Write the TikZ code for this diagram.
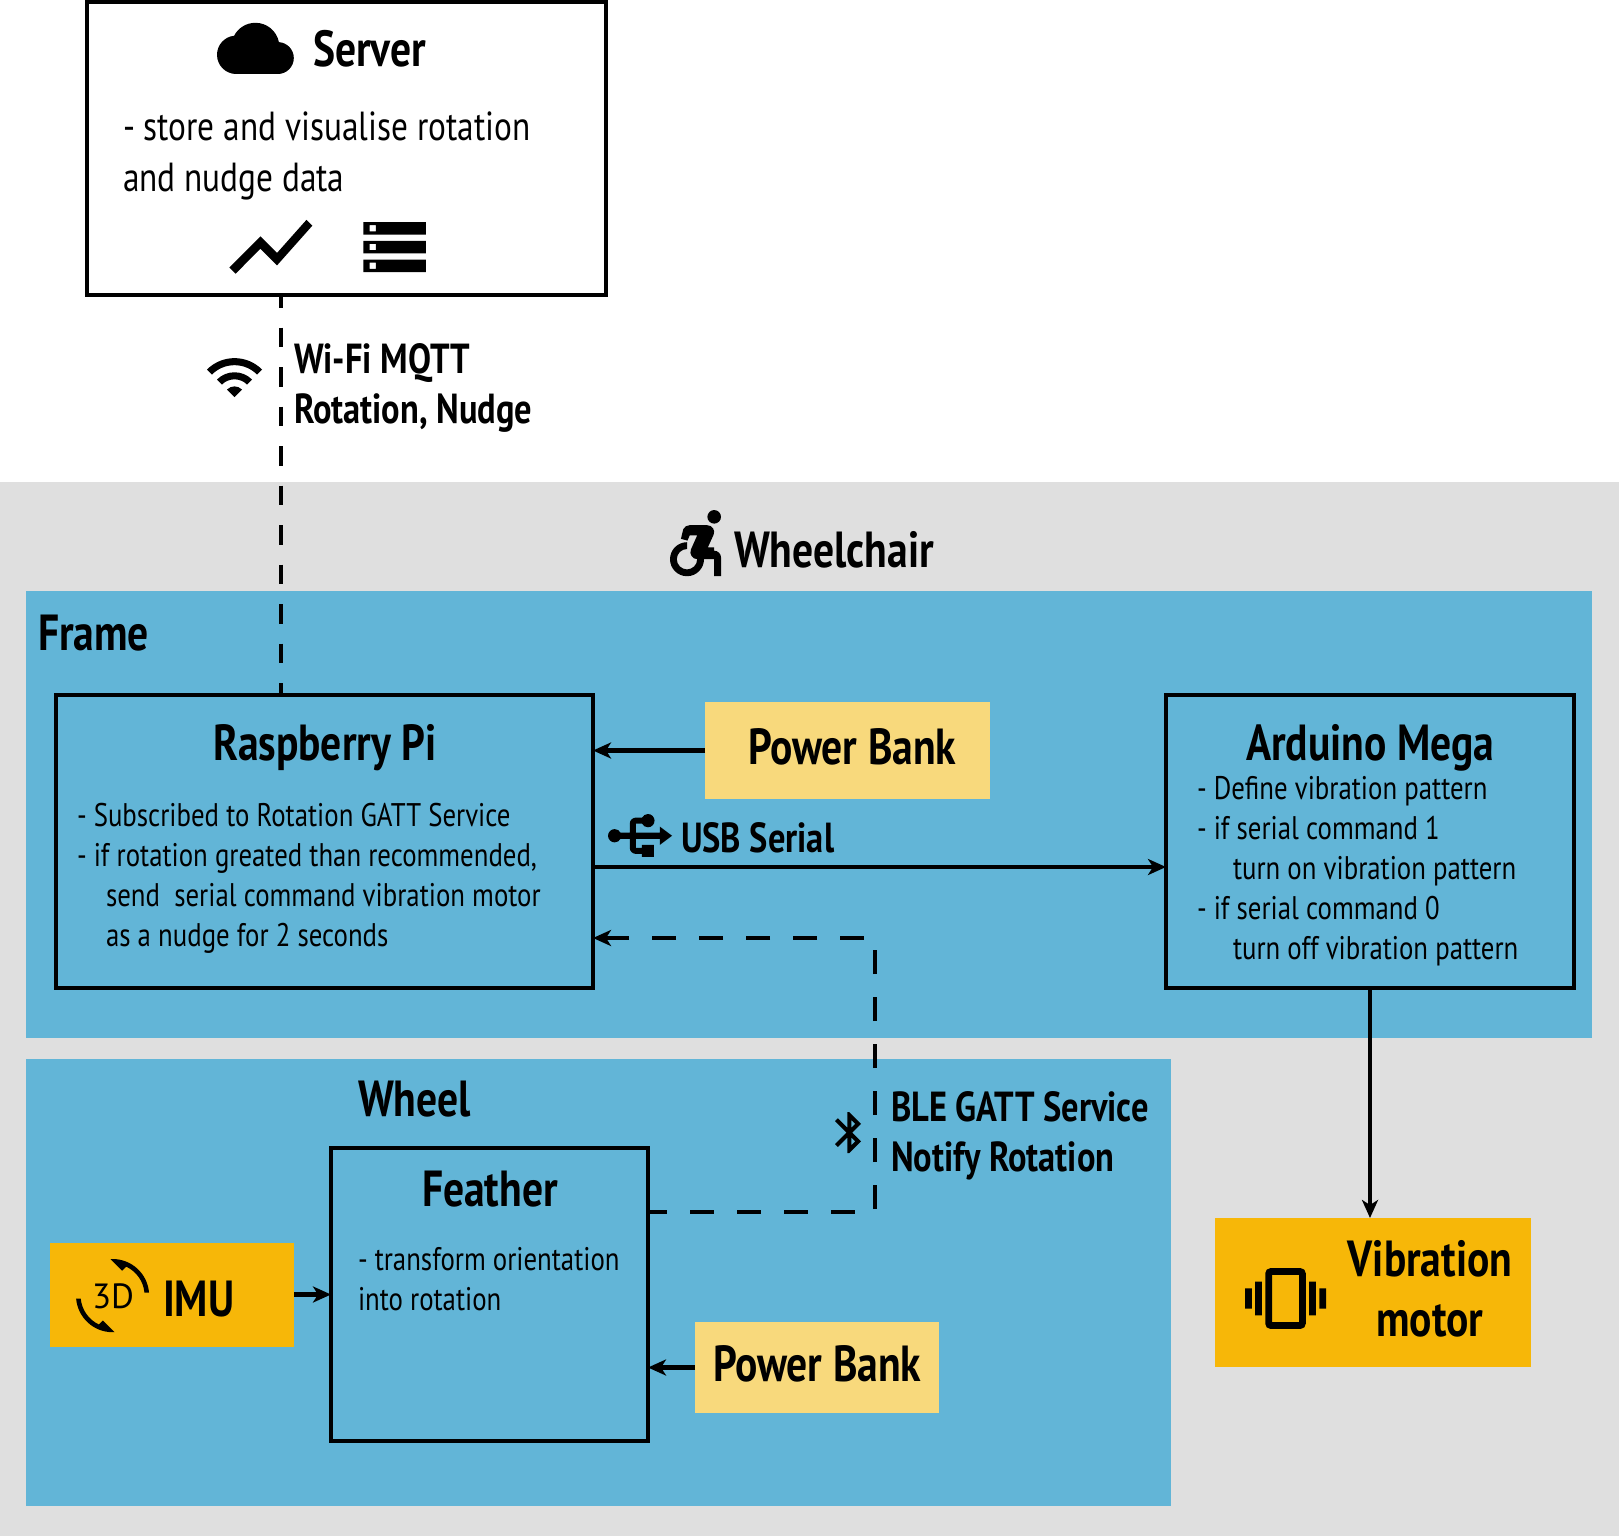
\documentclass[tikz,border=0pt]{standalone}
\usepackage{fontspec}
\setmainfont{PT Sans}[FakeStretch=0.82]
\newfontfamily\plainfont{PT Sans}
\usetikzlibrary{arrows.meta,svg.path}
\definecolor{bggray}{HTML}{DFDFDF}
\definecolor{zoneblue}{HTML}{62B5D7}
\definecolor{lightyellow}{HTML}{F8D97C}
\definecolor{strongyellow}{HTML}{F7B708}
\newcommand{\drawicon}[4]{\fill[even odd rule,shift={(#1,#2)},xscale=#3,yscale=-#3] svg {#4};}
\tikzset{
  zone/.style={fill=zoneblue,draw=none,inner sep=0pt,outer sep=0pt},
  blockbox/.style={draw=black,line width=4pt,inner sep=0pt,outer sep=0pt},
  softbox/.style={fill=lightyellow,inner sep=0pt,outer sep=0pt},
  hardbox/.style={fill=strongyellow,inner sep=0pt,outer sep=0pt},
  headline/.style={inner sep=0pt,outer sep=0pt,anchor=base west,font=\fontsize{50.7}{56}\selectfont\bfseries},
  linklabel/.style={inner sep=0pt,outer sep=0pt,anchor=north west,align=left,font=\fontsize{42}{50.5}\selectfont\bfseries},
  bodytext/.style={inner sep=0pt,outer sep=0pt,anchor=north west,align=left,font=\fontsize{32.7}{40}\selectfont},
  link/.style={draw=black,line width=4.3pt,-{Stealth[length=18pt,width=16pt,inset=5pt]}},
  wifilink/.style={draw=black,line width=4.3pt,dash pattern=on 19.5pt off 20pt,dash phase=7pt},
  blelink/.style={draw=black,line width=4.8pt,dash pattern=on 24pt off 23pt,dash phase=5pt,-{Stealth[length=18pt,width=16pt,inset=5pt]}},
}
\begin{document}
\begin{tikzpicture}[x=1pt,y=-1pt]
\useasboundingbox (0,0) rectangle (1619,1536);
\fill[bggray] (0,482) rectangle (1619,1536);
\node[zone,minimum width=1566pt,minimum height=447pt] (frame) at (809,814.5) {};
\node[zone,minimum width=1145pt,minimum height=447pt] (wheel) at (598.5,1282.5) {};
\node[blockbox,minimum width=519pt,minimum height=293pt] (server) at (346.5,148.5) {};
\node[blockbox,minimum width=537pt,minimum height=293pt] (pi) at (324.5,841.5) {};
\node[blockbox,minimum width=408pt,minimum height=293pt] (ard) at (1370,841.5) {};
\node[blockbox,minimum width=317pt,minimum height=293pt] (feather) at (489.5,1294.5) {};
\node[softbox,minimum width=285pt,minimum height=97pt] (pba) at (847.5,750.5) {};
\node[softbox,minimum width=244pt,minimum height=91pt] (pbb) at (817,1367.5) {};
\node[hardbox,minimum width=244pt,minimum height=104pt] (imu) at (172,1294.5) {};
\node[hardbox,minimum width=316pt,minimum height=149pt] (vib) at (1373,1292.5) {};
% connectors
\path[wifilink] (281,0 |- server.south) -- (281,0 |- pi.north);
\path[link] (pba.west) -- (pi.east |- pba.west);
\path[link] (pi.east |- 0,867) -- (ard.west |- 0,867);
\path[blelink] (feather.east |- 0,1212) -- (875,1212) -- (875,938) -- (pi.east |- 0,938);
\path[link] (imu.east) -- (feather.west);
\path[link] (pbb.west) -- (feather.east |- pbb.west);
\path[link] (ard.south) -- (ard.south |- vib.north);
% texts
\node[headline] (tserver) at (313,67) {Server};
\node[bodytext,font=\fontsize{40.6}{50.5}\selectfont] (bserver) at (123,112) {- store and visualise rotation\\and nudge data};
\node[linklabel] (lwifi) at (294,343.5) {Wi-Fi MQTT\\Rotation, Nudge};
\node[headline] (twc) at (734,567) {Wheelchair};
\node[headline] (tframe) at (38,650) {Frame};
\node[headline] (tpi) at (213,760) {Raspberry Pi};
\node[bodytext] (bpi) at (77,803) {- Subscribed to Rotation GATT Service\\- if rotation greated than recommended,\\\hspace*{29pt}send\ \ serial command vibration motor\\\hspace*{29pt}as a nudge for 2 seconds};
\node[headline] (tpba) at (748,764) {Power Bank};
\node[linklabel] (lusb) at (681,823) {USB Serial};
\node[headline] (tard) at (1246,760) {Arduino Mega};
\node[bodytext] (bard) at (1197,776) {- Define vibration pattern\\- if serial command 1\\\hspace*{36pt}turn on vibration pattern\\- if serial command 0\\\hspace*{36pt}turn off vibration pattern};
\node[headline] (twheel) at (358,1116) {Wheel};
\node[linklabel] (lble) at (891,1091) {BLE GATT Service\\Notify Rotation};
\node[headline] (tfeather) at (422,1206) {Feather};
\node[bodytext] (bfeather) at (358,1247) {- transform orientation\\into rotation};
\node[headline] (tpbb) at (713,1381) {Power Bank};
\node[headline] (timu) at (163,1316) {IMU};
\node[inner sep=0pt,outer sep=0pt,anchor=base west,font=\fontsize{35}{40}\selectfont\plainfont] (t3d) at (92,1308) {3D};
\node[inner sep=0pt,outer sep=0pt,anchor=north,align=center,font=\fontsize{50.7}{60}\selectfont\bfseries] (tvib) at (1430,1240) {Vibration\\motor};
% icons
\drawicon{217}{10}{3.2}{M 19.35 10.04 C 18.67 6.59 15.64 4 12 4 C 9.11 4 6.6 5.64 5.35 8.04 C 2.34 8.36 0 10.91 0 14 c 0 3.31 2.69 6 6 6 h 13 c 2.76 0 5 -2.24 5 -5 c 0 -2.64 -2.05 -4.78 -4.65 -4.96 z}
\drawicon{221}{197}{4.15}{M 3.5 18.49 l 6 -6.01 l 4 4 L 22 6.92 l -1.41 -1.41 l -7.09 7.97 l -4 -4 L 2 16.99 z}
\drawicon{357}{209.5}{3.13}{M 2 20 h 20 v -4 H 2 z M 4 17 h 2 v 2 H 4 z M 2 4 v 4 h 20 V 4 z M 6 7 H 4 V 5 h 2 z M 2 14 h 20 v -4 H 2 z M 4 11 h 2 v 2 H 4 z}
\drawicon{204.5}{347}{2.5}{M 1 9 l 2 2 c 4.97 -4.97 13.03 -4.97 18 0 l 2 -2 C 16.93 2.93 7.08 2.93 1 9 z M 9 17 l 3 3 l 3 -3 c -1.65 -1.66 -4.34 -1.66 -6 0 z M 5 13 l 2 2 c 2.76 -2.76 7.24 -2.76 10 0 l 2 -2 C 15.14 9.14 8.87 9.14 5 13 z}
\drawicon{653}{501.4}{3.4}{M 18 2.54 c 1.1 0 2 0.9 2 2 s -0.9 2 -2 2 s -2 -0.9 -2 -2 s 0.9 -2 2 -2 z M 15 17 h -2 c 0 1.65 -1.35 3 -3 3 s -3 -1.35 -3 -3 s 1.35 -3 3 -3 v -2 c -2.76 0 -5 2.24 -5 5 s 2.24 5 5 5 s 5 -2.24 5 -5 z M 18 13.5 h -1.86 l 1.67 -3.67 C 18.42 8.5 17.44 7 15.96 7 h -5.2 c -0.81 0 -1.54 0.47 -1.87 1.2 L 8.22 11 l 1.92 0.53 l 0.65 -1.53 H 13 l -1.83 4.1 c -0.6 1.33 0.39 2.9 1.85 2.9 H 18 v 5 h 2 v -5.5 c 0 -1.1 -0.9 -2 -2 -2 z}
\fill[even odd rule,shift={(602.6,799.5)},cm={0,-3.02,-3.02,0,(72.48pt,0pt)}] svg {M 15 7 v 4 h 1 v 2 h -3 V 5 h 2 l -3 -4 l -3 4 h 2 v 8 H 8 v -2.07 c 0.7 -0.37 1.2 -1.08 1.2 -1.93 c 0 -1.21 -0.99 -2.2 -2.2 -2.2 c -1.21 0 -2.2 0.99 -2.2 2.2 c 0 0.85 0.5 1.56 1.2 1.93 V 13 c 0 1.11 0.89 2 2 2 h 3 v 3.05 c -0.71 0.37 -1.2 1.1 -1.2 1.95 c 0 1.22 0.99 2.2 2.2 2.2 c 1.21 0 2.2 -0.98 2.2 -2.2 c 0 -0.85 -0.49 -1.58 -1.2 -1.95 V 15 h 3 c 1.11 0 2 -0.89 2 -2 v -2 h 1 V 7 h -4 z};
\drawicon{824.75}{1108}{2.05}{M 17.71 7.71 L 12 2 h -1 v 7.59 L 6.41 5 L 5 6.41 L 10.59 12 L 5 17.59 L 6.41 19 L 11 14.41 V 22 h 1 l 5.71 -5.71 l -4.3 -4.29 l 4.3 -4.29 z M 13 5.83 l 1.88 1.88 L 13 9.59 z M 14.88 16.29 L 13 18.17 v -3.76 z}
\drawicon{1245}{1258}{3.375}{M 0 15 h 2 V 9 H 0 z M 3 17 h 2 V 7 H 3 z M 22 9 v 6 h 2 V 9 z M 19 17 h 2 V 7 h -2 z M 16.5 3 h -9 C 6.67 3 6 3.67 6 4.5 v 15 c 0 0.83 0.67 1.5 1.5 1.5 h 9 c 0.83 0 1.5 -0.67 1.5 -1.5 v -15 c 0 -0.83 -0.67 -1.5 -1.5 -1.5 z M 16 19 H 8 V 5 h 8 z}
\drawicon{76}{1259}{3.05}{M 7.52 21.48 C 4.25 19.94 1.91 16.76 1.55 13 H 0.05 C 0.56 19.16 5.71 24 12 24 l 0.66 -0.03 l -3.81 -3.81 l -1.33 1.32 z M 12 0 l -0.66 0.03 l 3.81 3.81 l 1.33 -1.33 c 3.27 1.55 5.61 4.72 5.96 8.48 h 1.5 C 23.44 4.84 18.29 0 12 0 z}
\end{tikzpicture}
\end{document}
